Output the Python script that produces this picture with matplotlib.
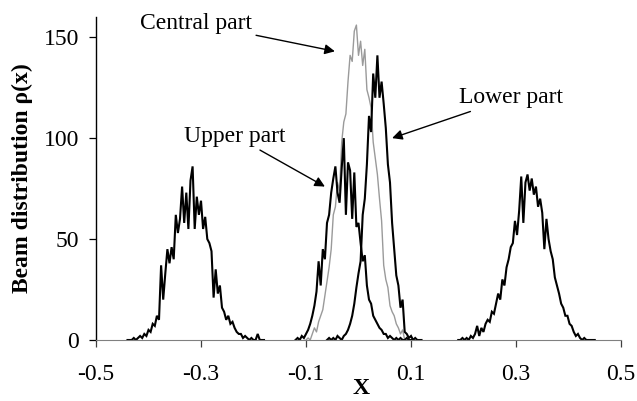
import numpy as np
import matplotlib
matplotlib.use("Agg")
import matplotlib.pyplot as plt

plt.rcParams['font.family'] = ['Liberation Serif', 'DejaVu Serif']

STEP = 0.004

# Left side peak (black)
left_start = -0.440
left_vals = [0, 0, 0, 1, 0, 1, 2, 1, 3, 2, 5, 4, 8, 7, 12, 10, 37, 20, 33, 45,
             38, 46, 40, 62, 53, 60, 76, 58, 73, 55, 79, 86, 55, 71, 62, 69, 55, 61,
             50, 48, 44, 21, 35, 23, 27, 16, 14, 10, 12, 8, 9, 6, 4, 3, 3, 1, 2, 1,
             0, 1, 0, 0, 3, 0, 0, 0]

# Upper part (black)
upper_start = -0.120
upper_vals = [0, 1, 0, 2, 1, 3, 5, 8, 12, 17, 24, 39, 27, 45, 40, 58, 62, 73, 80,
              86, 73, 68, 85, 100, 62, 88, 84, 60, 83, 56, 58, 48, 39, 42, 27, 20,
              18, 12, 10, 8, 6, 5, 3, 3, 1, 2, 1, 0, 1, 0, 1, 0, 0, 1, 0, 0]

# Central part (gray)
central_start = -0.100
central_vals = [0, 1, 0, 3, 6, 4, 9, 12, 15, 22, 29, 36, 45, 62, 66, 78, 74, 98,
                108, 112, 128, 141, 138, 153, 156, 141, 148, 136, 144, 124, 120,
                115, 98, 90, 82, 70, 59, 37, 30, 26, 17, 14, 12, 8, 6, 3, 5, 0]

# Lower part (black)
lower_start = -0.060
lower_vals = [0, 1, 0, 1, 0, 2, 1, 0, 2, 3, 5, 8, 12, 18, 26, 33, 39, 62, 70, 87,
              111, 103, 132, 120, 141, 120, 128, 117, 105, 87, 78, 58, 45, 32, 27,
              16, 20, 4, 3, 1, 2, 0, 1, 0, 0, 0]

# Right side peak (black)
right_start = 0.190
right_vals = [0, 0, 1, 0, 1, 0, 2, 1, 3, 7, 2, 6, 4, 8, 10, 9, 14, 13, 18, 23, 20,
              30, 27, 36, 40, 46, 48, 59, 52, 64, 81, 58, 78, 82, 74, 80, 72, 76,
              66, 70, 63, 45, 60, 50, 44, 40, 31, 27, 23, 18, 16, 12, 12, 8, 7, 4,
              2, 3, 1, 0, 1, 0, 0, 0, 0, 0]

x_ticks = [-0.5, -0.3, -0.1, 0.1, 0.3, 0.5]
y_ticks = [0, 50, 100, 150]


def grid(start, vals):
    return start + STEP * np.arange(len(vals))


fig = plt.figure(figsize=(6.37, 4.01), dpi=100)
ax = fig.add_axes([96 / 637, 61 / 401, 525 / 637, 323 / 401])

black_kw = dict(color='black', lw=1.5, solid_joinstyle='miter')
ax.plot(grid(left_start, left_vals), left_vals, **black_kw)
ax.plot(grid(upper_start, upper_vals), upper_vals, **black_kw)
ax.plot(grid(lower_start, lower_vals), lower_vals, **black_kw)
ax.plot(grid(right_start, right_vals), right_vals, **black_kw)
ax.plot(grid(central_start, central_vals), central_vals, color='#9a9a9a', lw=1.0, zorder=1.5)

ax.set_xlim(-0.5, 0.5)
ax.set_ylim(0, 160)
ax.set_xticks(x_ticks)
ax.set_xticklabels([f"{v:g}" for v in x_ticks])
ax.set_yticks(y_ticks)
ax.spines['top'].set_visible(False)
ax.spines['right'].set_visible(False)
ax.spines['bottom'].set_color('#808080')
ax.spines['left'].set_linewidth(1.0)
ax.tick_params(direction='out', length=5, width=0.9, labelsize=17)
ax.tick_params(axis='x', colors='#404040', labelcolor='black', pad=12)
ax.tick_params(axis='y', pad=7)

ax.set_ylabel('Beam distribution ρ(x)', fontsize=17, fontweight='bold')
ax.yaxis.set_label_coords(-0.12, 0.5)
ax.set_xlabel('X', fontsize=17, fontweight='bold')
ax.xaxis.set_label_coords(0.505, -0.118)

arrow_kw = dict(arrowstyle='-|>', color='black', lw=1.0, mutation_scale=15,
                shrinkA=1, shrinkB=0)
ax.annotate('Central part', xy=(-0.045, 143), xytext=(-0.203, 157),
            ha='right', va='center', fontsize=17, arrowprops=arrow_kw)
ax.annotate('Upper part', xy=(-0.064, 76), xytext=(-0.235, 101),
            ha='center', va='center', fontsize=17, arrowprops=arrow_kw)
ax.annotate('Lower part', xy=(0.064, 100), xytext=(0.290, 120),
            ha='center', va='center', fontsize=17, arrowprops=arrow_kw)

fig.savefig('out.png', dpi=100)
